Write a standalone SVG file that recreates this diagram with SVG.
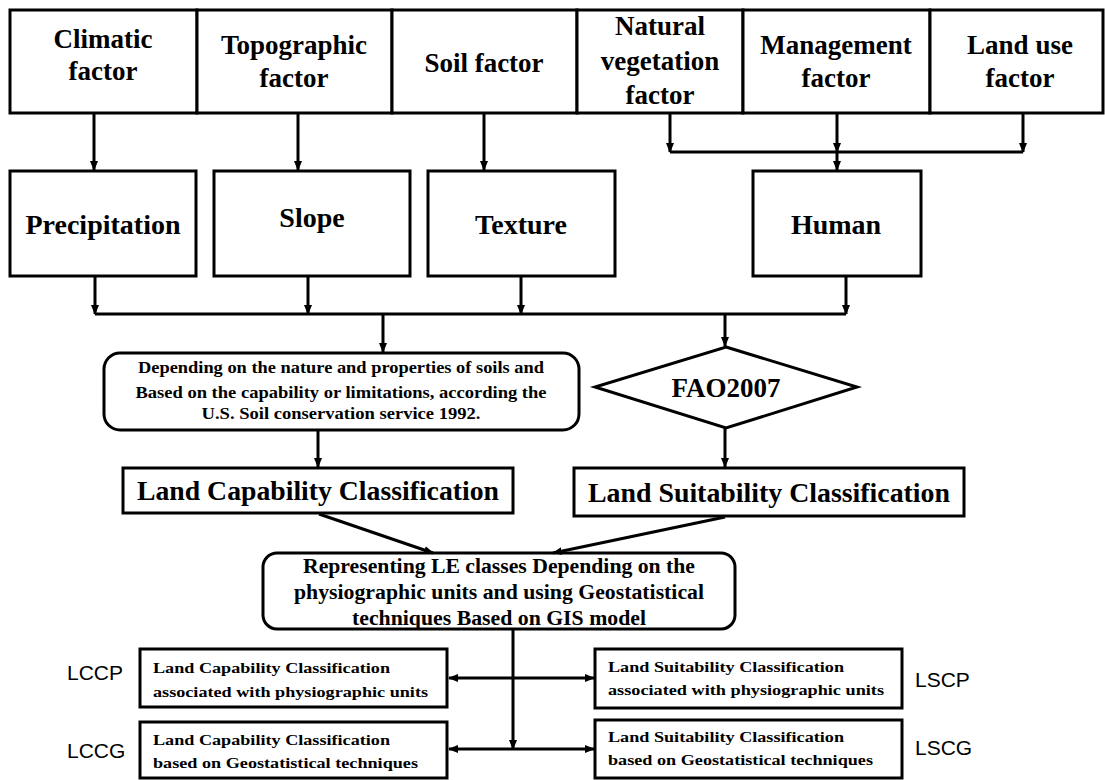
<svg xmlns="http://www.w3.org/2000/svg" width="1105" height="780" viewBox="0 0 1105 780">
<defs>
<marker id="ah" markerWidth="10" markerHeight="10" refX="9" refY="5" orient="auto" markerUnits="userSpaceOnUse"><path d="M0,1 L10,5 L0,9 Z" fill="#000"/></marker>
<style>
.b{fill:#fff;stroke:#000;stroke-width:3}
.t{font-family:"Liberation Serif","Times New Roman",serif;font-weight:bold;fill:#000;text-anchor:middle}
.f1{font-size:27px}
.f2{font-size:28px}
.f3{font-size:16px}
.f4{font-size:15px}
.tl{text-anchor:start}
.s{font-family:"Liberation Sans",Arial,sans-serif;font-size:21px;fill:#000}
.c{fill:none;stroke:#000;stroke-width:3}
</style>
</defs>
<rect width="1105" height="780" fill="#fff"/>
<g id="climatic"><rect class="b" x="10" y="10" width="187" height="103"/><text class="t f1" x="103" y="48">Climatic</text><text class="t f1" x="103" y="80">factor</text></g>
<g id="topographic"><rect class="b" x="197" y="10" width="195" height="103"/><text class="t f1" x="294" y="54">Topographic</text><text class="t f1" x="294" y="87">factor</text></g>
<g id="soil"><rect class="b" x="392" y="10" width="185" height="103"/><text class="t f1" x="484" y="72">Soil factor</text></g>
<g id="natural"><rect class="b" x="577" y="10" width="166" height="103"/><text class="t f1" x="660" y="35">Natural</text><text class="t f1" x="660" y="70">vegetation</text><text class="t f1" x="660" y="104">factor</text></g>
<g id="management"><rect class="b" x="743" y="10" width="187" height="103"/><text class="t f1" x="836" y="54">Management</text><text class="t f1" x="836" y="87">factor</text></g>
<g id="landuse"><rect class="b" x="930" y="10" width="173" height="103"/><text class="t f1" x="1020" y="54">Land use</text><text class="t f1" x="1020" y="87">factor</text></g>
<g id="precipitation"><rect class="b" x="10" y="171" width="186" height="105"/><text class="t f2" x="103" y="234">Precipitation</text></g>
<g id="slope"><rect class="b" x="214" y="171" width="196" height="105"/><text class="t f2" x="312" y="227">Slope</text></g>
<g id="texture"><rect class="b" x="428" y="171" width="187" height="105"/><text class="t f2" x="521" y="234">Texture</text></g>
<g id="human"><rect class="b" x="753" y="171" width="168" height="105"/><text class="t f2" x="836" y="234">Human</text></g>
<g id="usscs"><rect class="b" x="104" y="353" width="475" height="77" rx="16"/><text class="t f3" x="341" y="373" textLength="406" lengthAdjust="spacingAndGlyphs">Depending on the nature and properties of soils and</text><text class="t f3" x="341" y="398" textLength="411" lengthAdjust="spacingAndGlyphs">Based on the capability  or limitations,  according  the</text><text class="t f3" x="341" y="419" textLength="279" lengthAdjust="spacingAndGlyphs">U.S. Soil conservation service 1992.</text></g>
<g id="fao"><polygon class="b" points="726,347 857,387 726,428 595,387"/><text class="t" style="font-size:27px" x="726" y="397">FAO2007</text></g>
<g id="lcc"><rect class="b" x="123" y="468" width="390" height="45"/><text class="t" style="font-size:27px" x="318" y="500" textLength="362" lengthAdjust="spacingAndGlyphs">Land Capability Classification</text></g>
<g id="lsc"><rect class="b" x="574" y="468" width="390" height="48"/><text class="t" style="font-size:27px" x="769" y="502" textLength="362" lengthAdjust="spacingAndGlyphs">Land Suitability Classification</text></g>
<g id="representing"><rect class="b" x="263" y="553" width="472" height="76" rx="14"/><text class="t" style="font-size:20px" x="499" y="573" textLength="392" lengthAdjust="spacingAndGlyphs">Representing LE classes Depending on the</text><text class="t" style="font-size:20px" x="499" y="599" textLength="410" lengthAdjust="spacingAndGlyphs">physiographic units and using Geostatistical</text><text class="t" style="font-size:20px" x="499" y="625" textLength="294" lengthAdjust="spacingAndGlyphs">techniques Based on GIS model</text></g>
<g id="lccp"><rect class="b" x="140" y="649" width="307" height="58"/><text class="t f4 tl" x="153" y="673" textLength="237" lengthAdjust="spacingAndGlyphs">Land  Capability  Classification</text><text class="t f4 tl" x="153" y="697" textLength="275" lengthAdjust="spacingAndGlyphs">associated with  physiographic  units</text><text class="s" x="67" y="680">LCCP</text></g>
<g id="lccg"><rect class="b" x="140" y="722" width="307" height="56"/><text class="t f4 tl" x="153" y="745" textLength="237" lengthAdjust="spacingAndGlyphs">Land  Capability  Classification</text><text class="t f4 tl" x="153" y="768" textLength="265" lengthAdjust="spacingAndGlyphs">based on Geostatistical techniques</text><text class="s" x="67" y="758">LCCG</text></g>
<g id="lscp"><rect class="b" x="595" y="649" width="307" height="59"/><text class="t f4 tl" x="608" y="672" textLength="236" lengthAdjust="spacingAndGlyphs">Land  Suitability  Classification</text><text class="t f4 tl" x="608" y="695" textLength="276" lengthAdjust="spacingAndGlyphs">associated with  physiographic  units</text><text class="s" x="915" y="687">LSCP</text></g>
<g id="lscg"><rect class="b" x="595" y="720" width="307" height="58"/><text class="t f4 tl" x="608" y="742" textLength="236" lengthAdjust="spacingAndGlyphs">Land  Suitability  Classification</text><text class="t f4 tl" x="608" y="765" textLength="265" lengthAdjust="spacingAndGlyphs">based on Geostatistical techniques</text><text class="s" x="915" y="755">LSCG</text></g>
<g id="connectors">
<line class="c" x1="94" y1="113" x2="94" y2="170" marker-end="url(#ah)"/>
<line class="c" x1="298" y1="113" x2="298" y2="170" marker-end="url(#ah)"/>
<line class="c" x1="484" y1="113" x2="484" y2="170" marker-end="url(#ah)"/>
<line class="c" x1="670" y1="113" x2="670" y2="152" marker-end="url(#ah)"/>
<line class="c" x1="837" y1="113" x2="837" y2="152" marker-end="url(#ah)"/>
<line class="c" x1="1023" y1="113" x2="1023" y2="152" marker-end="url(#ah)"/>
<line class="c" x1="670" y1="152" x2="1023" y2="152"/>
<line class="c" x1="837" y1="152" x2="837" y2="170" marker-end="url(#ah)"/>
<line class="c" x1="95" y1="276" x2="95" y2="314" marker-end="url(#ah)"/>
<line class="c" x1="308" y1="276" x2="308" y2="314" marker-end="url(#ah)"/>
<line class="c" x1="521" y1="276" x2="521" y2="314" marker-end="url(#ah)"/>
<line class="c" x1="846" y1="276" x2="846" y2="314" marker-end="url(#ah)"/>
<line class="c" x1="95" y1="314" x2="846" y2="314"/>
<line class="c" x1="383" y1="314" x2="383" y2="352" marker-end="url(#ah)"/>
<line class="c" x1="725" y1="314" x2="725" y2="346" marker-end="url(#ah)"/>
<line class="c" x1="318" y1="430" x2="318" y2="467" marker-end="url(#ah)"/>
<line class="c" x1="725" y1="428" x2="725" y2="467" marker-end="url(#ah)"/>
<line class="c" x1="319" y1="514" x2="433" y2="553" marker-end="url(#ah)"/>
<line class="c" x1="725" y1="517" x2="553" y2="553" marker-end="url(#ah)"/>
<line class="c" x1="513" y1="629" x2="513" y2="749" marker-end="url(#ah)"/>
<line class="c" x1="513" y1="678" x2="449" y2="678" marker-end="url(#ah)"/>
<line class="c" x1="513" y1="678" x2="594" y2="678" marker-end="url(#ah)"/>
<line class="c" x1="513" y1="749" x2="449" y2="749" marker-end="url(#ah)"/>
<line class="c" x1="513" y1="749" x2="594" y2="749" marker-end="url(#ah)"/>
</g>
</svg>
